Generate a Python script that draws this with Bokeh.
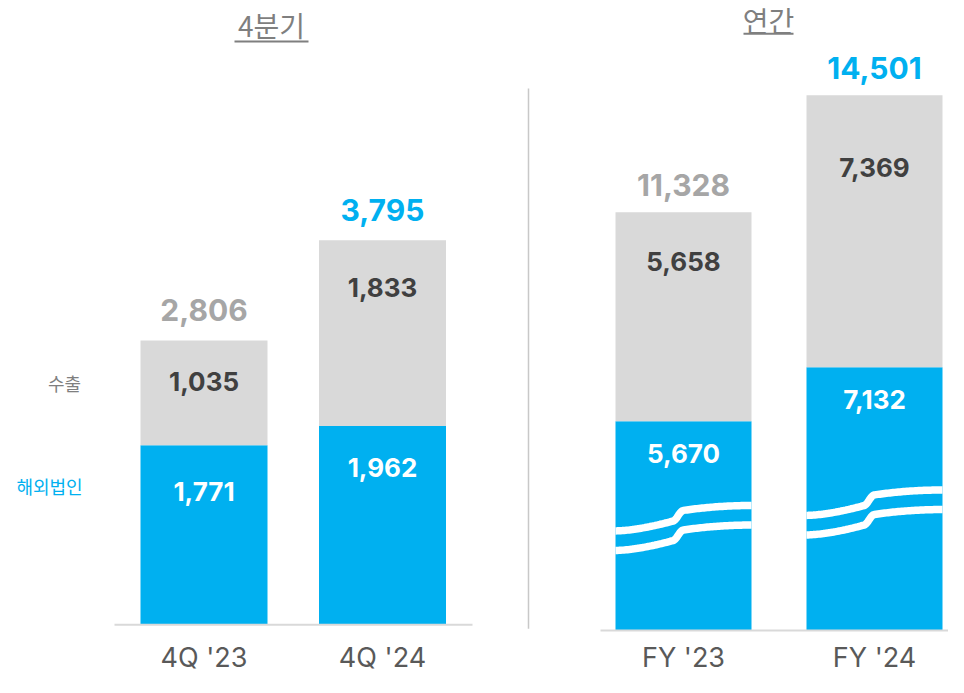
import math
from bokeh.plotting import figure
from bokeh.models import Range1d
from bokeh.core.properties import value
from bokeh.embed import file_html
from bokeh.resources import INLINE

# ---------------- data ----------------
quarters = ["4Q '23", "4Q '24"]
q_overseas = [1771, 1962]
q_export = [1035, 1833]
years = ["FY '23", "FY '24"]
fy_overseas = [5670, 7132]
fy_export = [5658, 7369]
series_names = ["수출", "해외법인"]
panel_titles = ["4분기", "연간"]

q_total = [a + b for a, b in zip(q_overseas, q_export)]
fy_total = [a + b for a, b in zip(fy_overseas, fy_export)]

# ---------------- style / layout ----------------
BLUE = "#00B0F0"
BAR_GRAY = "#D9D9D9"
TOTAL_GRAY = "#A6A6A6"
DARK = "#404040"
TITLE_GRAY = "#7F7F7F"
TICK_GRAY = "#595959"
KR = value("Noto Sans CJK KR")
NUM = value("Inter")

W, H = 948, 677
S = H / 693.0                 # vertical compression of the reference layout


def py(ref_y):
    return ref_y * S


def px(ref_x):
    return ref_x


KREF_L = 0.1037               # reference px per unit, quarterly panel
KREF_R = 0.0378               # reference px per unit, annual panel
base_L = py(639)
base_R = py(645)
kL = KREF_L * S
kR = KREF_R * S


def vL(pix):
    return (base_L - pix) / kL


def vR(pix):
    return (base_R - pix) / kR


p = figure(width=W, height=H, x_range=Range1d(0, W),
           y_range=Range1d(-(H - base_L) / kL, base_L / kL),
           output_backend="svg", toolbar_location=None, min_border=0,
           x_axis_location=None, y_axis_location=None)
p.extra_y_ranges = {"fy": Range1d(-(H - base_R) / kR, base_R / kR)}
p.grid.visible = False
p.outline_line_color = None
p.background_fill_color = "white"
p.border_fill_color = "white"

# bar geometry (screen units of x range)
q_x = [px(203.5), px(382)]
q_w = 127
fy_x = [px(683), px(874)]
fy_w = 136

# ---------------- quarterly panel ----------------
p.vbar(x=q_x, width=q_w, bottom=0, top=q_overseas, fill_color=BLUE, line_color=None)
p.vbar(x=q_x, width=q_w, bottom=q_overseas, top=q_total, fill_color=BAR_GRAY, line_color=None)
p.segment(x0=[px(114)], x1=[px(472)], y0=[0], y1=[0], line_color=BAR_GRAY, line_width=2)

q_tot_colors = [TOTAL_GRAY, BLUE]
p.text(x=q_x, y=[t + 31 / KREF_L for t in q_total], text=[f"{t:,}" for t in q_total],
       text_color=q_tot_colors, text_font=NUM, text_font_style="bold",
       text_font_size="30px", text_align="center", text_baseline="middle")
q_exp_drop = [42, 48]
p.text(x=q_x, y=[t - d / KREF_L for t, d in zip(q_total, q_exp_drop)],
       text=[f"{v:,}" for v in q_export], text_color=DARK, text_font=NUM,
       text_font_style="bold", text_font_size="26px", text_align="center",
       text_baseline="middle")
q_ov_drop = [47, 42]
p.text(x=q_x, y=[t - d / KREF_L for t, d in zip(q_overseas, q_ov_drop)],
       text=[f"{v:,}" for v in q_overseas], text_color="white", text_font=NUM,
       text_font_style="bold", text_font_size="26px", text_align="center",
       text_baseline="middle")
p.text(x=q_x, y=[vL(py(673))] * 2, text=quarters, text_color=TICK_GRAY,
       text_font=NUM, text_font_size="27px", text_align="center",
       text_baseline="middle")

# legend-like side labels
p.text(x=[px(64)], y=[vL(py(392))], text=[series_names[0]], text_color=TITLE_GRAY,
       text_font=KR, text_font_size="18px", text_align="center", text_baseline="middle")
p.text(x=[px(49)], y=[vL(py(497))], text=[series_names[1]], text_color=BLUE,
       text_font=KR, text_font_size="18px", text_align="center", text_baseline="middle")

# titles
p.text(x=[px(271)], y=[vL(py(25))], text=[panel_titles[0]], text_color=TITLE_GRAY,
       text_font=KR, text_font_size="28px", text_align="center", text_baseline="middle")
p.segment(x0=[px(234)], x1=[px(308)], y0=[vL(py(42))], y1=[vL(py(42))],
          line_color=TITLE_GRAY, line_width=2)
p.text(x=[px(768)], y=[vL(py(20))], text=[panel_titles[1]], text_color=TITLE_GRAY,
       text_font=KR, text_font_size="28px", text_align="center", text_baseline="middle")
p.segment(x0=[px(743)], x1=[px(793)], y0=[vL(py(34))], y1=[vL(py(34))],
          line_color=TITLE_GRAY, line_width=2)

# divider
p.segment(x0=[px(528)], x1=[px(528)], y0=[vL(py(90))], y1=[vL(py(643))],
          line_color="#C8C8C8", line_width=1.5)

# ---------------- annual panel ----------------
p.vbar(x=fy_x, width=fy_w, bottom=0, top=fy_overseas, fill_color=BLUE,
       line_color=None, y_range_name="fy")
p.vbar(x=fy_x, width=fy_w, bottom=fy_overseas, top=fy_total, fill_color=BAR_GRAY,
       line_color=None, y_range_name="fy")
p.segment(x0=[px(600)], x1=[W], y0=[0], y1=[0], line_color=BAR_GRAY, line_width=2,
          y_range_name="fy")

# axis-break marks (decoration)
break_at = [2700, 3120]      # value at the left edge of the upper band
band_gap_px = 20


def break_path(xc, w, v_left):
    xs, ys = [], []
    n = 80
    for i in range(n + 1):
        t = i / n
        if t <= 0.42:
            off = 10 * (t / 0.42) ** 1.6
        elif t <= 0.5:
            s = (t - 0.42) / 0.08
            off = 10 + 11 * (1 - math.cos(math.pi * s)) / 2
        else:
            s = (t - 0.5) / 0.5
            off = 21 + 5 * (1 - (1 - s) ** 2)
        xs.append(xc - w / 2 + w * t)
        ys.append(v_left + off / KREF_R)
    return xs, ys


bxs, bys = [], []
for xc, b in zip(fy_x, break_at):
    for lv in (b, b - band_gap_px / KREF_R):
        xs, ys = break_path(xc, fy_w, lv)
        bxs.append(xs)
        bys.append(ys)
p.multi_line(xs=bxs, ys=bys, line_color="white", line_width=7.5, line_cap="butt",
             y_range_name="fy")

fy_tot_colors = [TOTAL_GRAY, BLUE]
p.text(x=fy_x, y=[t + 28 / KREF_R for t in fy_total], text=[f"{t:,}" for t in fy_total],
       text_color=fy_tot_colors, text_font=NUM, text_font_style="bold",
       text_font_size="30px", text_align="center", text_baseline="middle",
       y_range_name="fy")
fy_exp_drop = [50, 74]
p.text(x=fy_x, y=[t - d / KREF_R for t, d in zip(fy_total, fy_exp_drop)],
       text=[f"{v:,}" for v in fy_export], text_color=DARK, text_font=NUM,
       text_font_style="bold", text_font_size="26px", text_align="center",
       text_baseline="middle", y_range_name="fy")
fy_ov_drop = [33, 33]
p.text(x=fy_x, y=[t - d / KREF_R for t, d in zip(fy_overseas, fy_ov_drop)],
       text=[f"{v:,}" for v in fy_overseas], text_color="white", text_font=NUM,
       text_font_style="bold", text_font_size="26px", text_align="center",
       text_baseline="middle", y_range_name="fy")
p.text(x=fy_x, y=[vR(py(673))] * 2, text=years, text_color=TICK_GRAY,
       text_font=NUM, text_font_size="27px", text_align="center",
       text_baseline="middle", y_range_name="fy")

open("out.html", "w").write(file_html(p, INLINE))
